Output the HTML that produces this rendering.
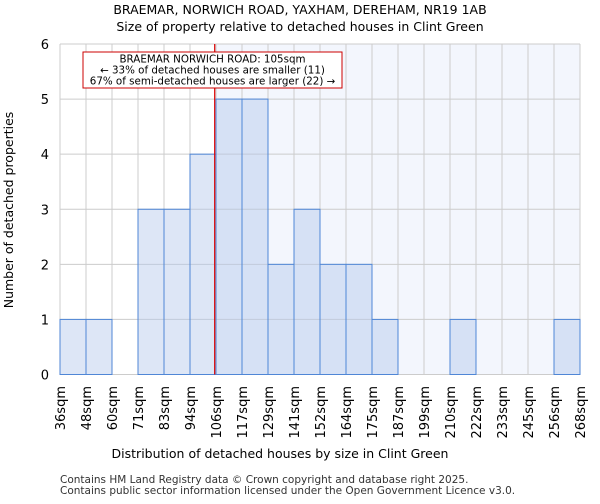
<!DOCTYPE html>
<html><head><meta charset="utf-8"><style>
body{margin:0;background:#fff;font-family:"DejaVu Sans","Liberation Sans",sans-serif}
svg text{font-family:"DejaVu Sans","Liberation Sans",sans-serif}
</style></head><body>
<svg id="chart" width="600" height="500" xmlns="http://www.w3.org/2000/svg">
<text x="300" y="14" text-anchor="middle" font-size="12.5">BRAEMAR, NORWICH ROAD, YAXHAM, DEREHAM, NR19 1AB</text>
<text x="300" y="31" text-anchor="middle" font-size="12.5">Size of property relative to detached houses in Clint Green</text>
<g id="plot"></g>
<text x="280" y="458" text-anchor="middle" font-size="12.5">Distribution of detached houses by size in Clint Green</text>
<text transform="translate(13,210) rotate(-90)" text-anchor="middle" font-size="12.5">Number of detached properties</text>
<text x="60" y="483" font-size="10.5" fill="#333">Contains HM Land Registry data © Crown copyright and database right 2025.</text>
<text x="60" y="494" font-size="10.5" fill="#333">Contains public sector information licensed under the Open Government Licence v3.0.</text>
</svg>
<script>
const categories=["36sqm","48sqm","60sqm","71sqm","83sqm","94sqm","106sqm","117sqm","129sqm","141sqm","152sqm","164sqm","175sqm","187sqm","199sqm","210sqm","222sqm","233sqm","245sqm","256sqm","268sqm"];
const counts=[1,1,0,3,3,4,5,5,2,3,2,2,1,0,0,1,0,0,0,1];
const yTicks=[0,1,2,3,4,5,6];
const markerIndex=5.95;
const NS="http://www.w3.org/2000/svg";
const g=document.getElementById("plot");
const X0=60,X1=580,Y0=374.5,Y1=44,N=counts.length;
const x=i=>X0+(X1-X0)*i/N;
const y=v=>Y0-(Y0-Y1)*v/6;
function mk(t,a){const e=document.createElementNS(NS,t);for(const k in a)e.setAttribute(k,a[k]);g.appendChild(e);return e;}
const mx=x(markerIndex);
let e=mk("rect",{x:mx,y:Y1,width:X1-mx,height:Y0-Y1,fill:"#f3f6fd"});


for(let i=0;i<=N;i++){e=mk("line",{x1:x(i),x2:x(i),y1:Y1,y2:Y0,stroke:"#ccc"});

}
yTicks.forEach(v=>{e=mk("line",{x1:X0,x2:X1,y1:y(v),y2:y(v),stroke:"#ccc"});


const t=mk("text",{x:X0-11,y:y(v)+5,"text-anchor":"end","font-size":"13"});t.textContent=v;

});
counts.forEach((c,i)=>{if(!c)return;
const b=mk("rect",{x:x(i),y:y(c),width:x(i+1)-x(i),height:Y0-y(c),fill:"rgba(180,200,235,0.45)",stroke:"#4f86d6","stroke-width":"1"});

});
categories.forEach((c,i)=>{const t=mk("text",{transform:`translate(${x(i)+5},386) rotate(-90)`,"text-anchor":"end","font-size":"13"});t.textContent=c;

});
e=mk("line",{x1:mx,x2:mx,y1:Y1,y2:Y0,stroke:"#d00","stroke-width":"1.2"});


e=mk("rect",{x:83,y:52,width:259,height:36,fill:"#fff",stroke:"#c00","stroke-width":"1"});


["BRAEMAR NORWICH ROAD: 105sqm","← 33% of detached houses are smaller (11)","67% of semi-detached houses are larger (22) →"].forEach((s,k)=>{
const t=mk("text",{x:212.5,y:62.5+k*11,"text-anchor":"middle","font-size":"10.3"});t.textContent=s;

});
</script>
</body></html>
